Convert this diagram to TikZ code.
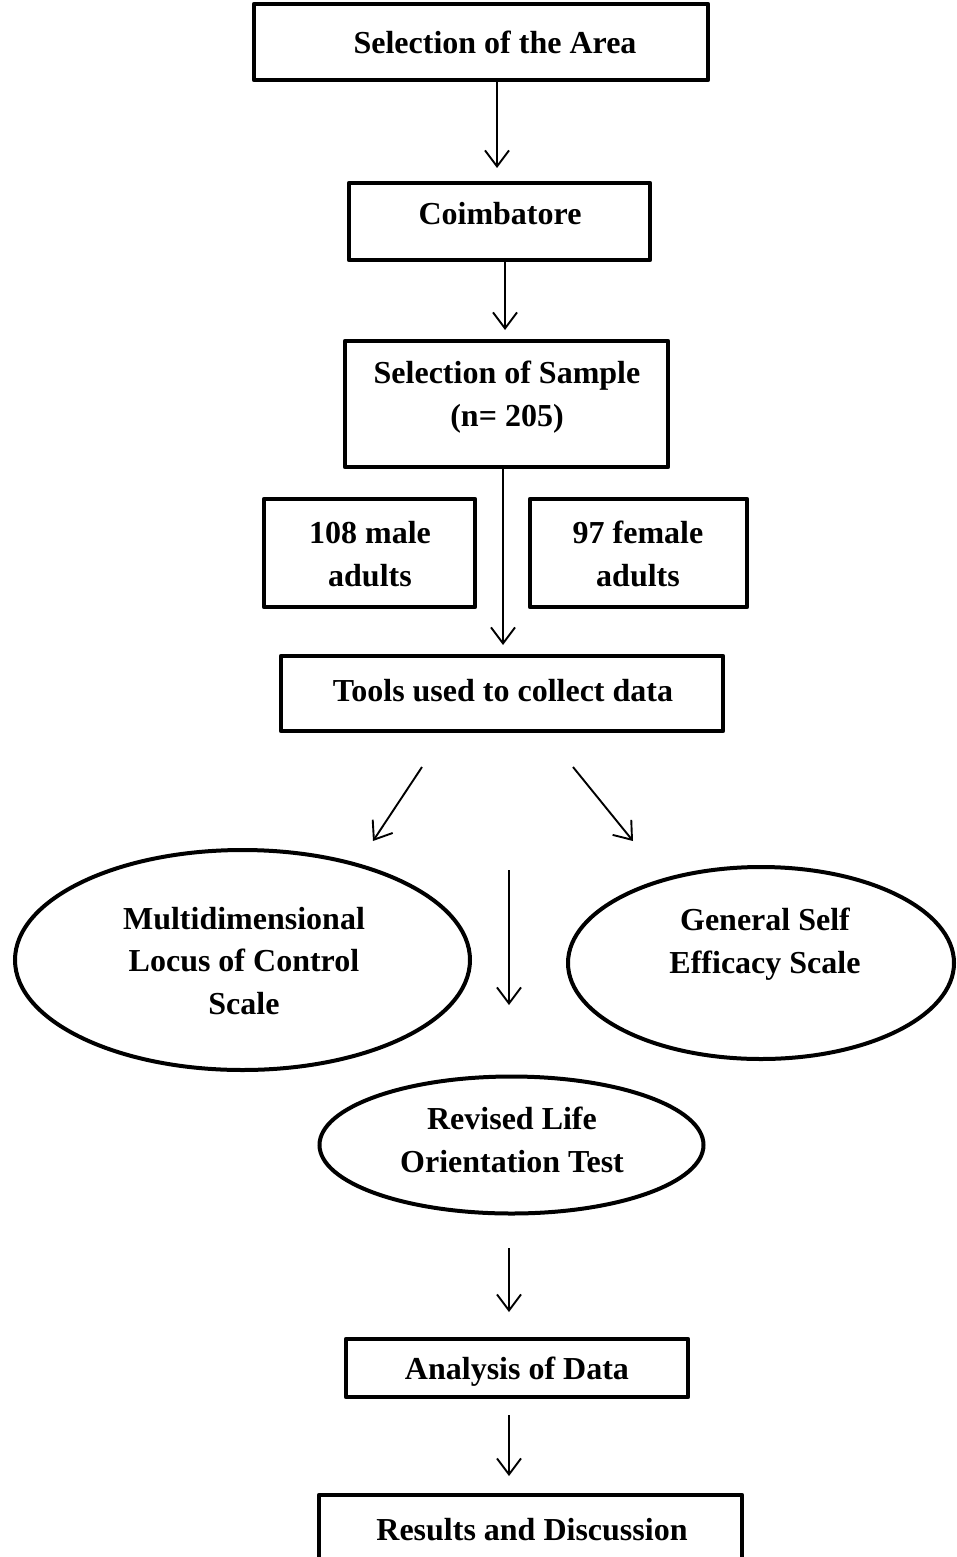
\documentclass[tikz,border=0pt]{standalone}
\usepackage{fontspec}
\setmainfont{Liberation Serif}
\usetikzlibrary{arrows.meta,shapes.geometric}
\begin{document}
\begin{tikzpicture}[x=1pt,y=-1pt,
  txt/.style={font=\bfseries\fontsize{32}{42.5}\selectfont, align=center, inner sep=0pt},
  box/.style={draw, line width=4.5pt, line join=round, inner sep=0pt},
  ell/.style={draw, ellipse, line width=4pt, inner sep=0pt},
  arr/.style={line width=1.9pt, -{Straight Barb[length=16pt,width=24pt]}}]
\clip (0,0) rectangle (956,1557);
\useasboundingbox (0,0) rectangle (956,1557);
\fill[white] (0,0) rectangle (956,1557);

\node[box, minimum width=454, minimum height=76] (b1) at (481,42) {};
\node[txt] (l1) at (495,42) {Selection of the Area};
\node[box, minimum width=301, minimum height=77] (b2) at (499.5,221.5) {};
\node[txt] (l2) at (500,213.5) {Coimbatore};
\node[box, minimum width=323, minimum height=126] (b3) at (506.5,404) {};
\node[txt] (l3) at (507,397) {Selection of Sample\\(n= 205)};
\node[box, minimum width=211, minimum height=108] (m) at (369.5,553) {};
\node[txt] (lm) at (370,554) {108 male\\adults};
\node[box, minimum width=217, minimum height=108] (f) at (638.5,553) {};
\node[txt] (lf) at (638,554) {97 female\\adults};
\node[box, minimum width=442, minimum height=75] (b4) at (502,693.5) {};
\node[txt] (l4) at (503,690.5) {Tools used to collect data};
\node[ell, minimum width=455, minimum height=220] (e1) at (242.5,960) {};
\node[txt] (le1) at (244,961) {Multidimensional\\Locus of Control\\Scale};
\node[ell, minimum width=386, minimum height=192] (e2) at (761,963) {};
\node[txt] (le2) at (765,944) {General Self\\Efficacy Scale};
\node[ell, minimum width=384, minimum height=137] (e3) at (511.5,1145) {};
\node[txt] (le3) at (512,1140) {Revised Life\\Orientation Test};
\node[box, minimum width=342, minimum height=58] (b5) at (517,1368) {};
\node[txt] (l5) at (517,1372) {Analysis of Data};
\node[box, minimum width=423, minimum height=68] (b6) at (530.5,1529) {};
\node[txt] (l6) at (532,1530) {Results and Discussion};

\coordinate (t1) at (497,168);
\coordinate (t2) at (505,330);
\coordinate (t3) at (503,645);
\coordinate (d1s) at (422,767);
\coordinate (d1e) at (373,841);
\coordinate (d2s) at (573,767);
\coordinate (d2e) at (633,841);
\coordinate (ms) at (509,870);
\coordinate (me) at (509,1005);
\coordinate (s5) at (509,1248);
\coordinate (t5) at (509,1312);
\coordinate (s6) at (509,1415);
\coordinate (t6) at (509,1476);

\draw[arr] (b1.south -| t1) -- (t1);
\draw[arr] (b2.south -| t2) -- (t2);
\draw[arr] (b3.south -| t3) -- (t3);
\draw[arr] (d1s) -- (d1e);
\draw[arr] (d2s) -- (d2e);
\draw[arr] (ms) -- (me);
\draw[arr] (s5) -- (t5);
\draw[arr] (s6) -- (t6);
\end{tikzpicture}
\end{document}
